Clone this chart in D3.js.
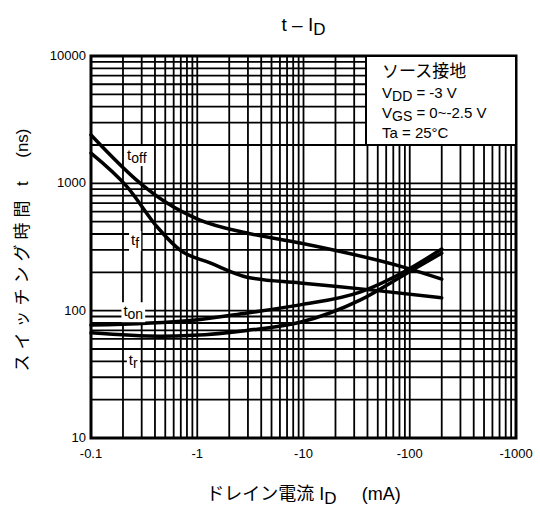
<!DOCTYPE html>
<html>
<head>
<meta charset="utf-8">
<script src="https://cdn.jsdelivr.net/npm/d3@7"></script>
<style>
  body { margin: 0; background: #fff; }
  text { font-family: "Liberation Sans", Arial, "Noto Sans CJK JP", sans-serif; fill: #000; }
  .jp { font-family: "Liberation Sans", "Noto Sans CJK JP", sans-serif; }
</style>
</head>
<body>
<div id="chart"></div>
<script>
const WIDTH = 540;
const HEIGHT = 510;
const MARGINS = {left: 91, right: 24, top: 56, bottom: 72};

// drain current |ID| (mA) and switching time (ns)
const toffI = [0.1, 0.29, 0.52, 1.06, 2.94, 9.3, 94, 200];
const toffT = [2400, 1005, 700, 515, 407, 340, 216, 177];
const tfI = [0.1, 0.22, 0.42, 0.69, 1.32, 2.94, 9.3, 45, 200];
const tfT = [1730, 935, 454, 299, 237, 183, 165, 145, 126];
const tonI = [0.1, 0.91, 2.94, 9.3, 34, 94, 200];
const tonT = [77, 84, 96, 111, 140, 208, 305];
const trI = [0.1, 0.45, 0.91, 2.94, 9.3, 34, 94, 200];
const trT = [67, 63, 64, 70, 81, 121, 197, 283];

const curveNames = ["toff", "tf", "ton", "tr"];
const labelX = [0.27, 0.26, 0.25, 0.25];
const labelY = [1667, 359, 99, 41];
const labelSub = ["off", "f", "on", "r"];

const xTicks = [0.1, 1, 10, 100, 1000];
const xTickLabels = ["-0.1", "-1", "-10", "-100", "-1000"];
const yTicks = [10, 100, 1000, 10000];
const yTickLabels = ["10", "100", "1000", "10000"];

const svg = d3.select("#chart")
  .append("svg")
    .attr("width", WIDTH)
    .attr("height", HEIGHT);

const x = d3.scaleLog().domain([0.1, 1000]).range([MARGINS.left, WIDTH - MARGINS.right]);
const y = d3.scaleLog().domain([10, 10000]).range([HEIGHT - MARGINS.bottom, MARGINS.top]);

// grid lines: every 1..9 of each decade
const xGrid = [];
for (let d = 0.1; d < 1000; d *= 10) for (let k = 1; k < 10; k++) xGrid.push(d * k);
const yGrid = [];
for (let d = 10; d < 10000; d *= 10) for (let k = 1; k < 10; k++) yGrid.push(d * k);

svg.append("g").selectAll("line")
  .data(xGrid)
  .enter()
  .append("line")
    .attr("x1", d => x(d)).attr("x2", d => x(d))
    .attr("y1", y(10)).attr("y2", y(10000))
    .attr("stroke", "#000").attr("stroke-width", 1.8);

svg.append("g").selectAll("line")
  .data(yGrid)
  .enter()
  .append("line")
    .attr("x1", x(0.1)).attr("x2", x(1000))
    .attr("y1", d => y(d)).attr("y2", d => y(d))
    .attr("stroke", "#000").attr("stroke-width", 1.8);

// frame
svg.append("rect")
  .attr("x", x(0.1)).attr("y", y(10000))
  .attr("width", x(1000) - x(0.1)).attr("height", y(10) - y(10000))
  .attr("fill", "none").attr("stroke", "#000").attr("stroke-width", 3);

// curves
const line = d3.line()
  .x(d => x(d[0]))
  .y(d => y(d[1]))
  .curve(d3.curveMonotoneX);

const series = [[toffI, toffT], [tfI, tfT], [tonI, tonT], [trI, trT]];
svg.append("g").selectAll("path")
  .data(series)
  .enter()
  .append("path")
    .attr("d", s => line(s[0].map((v, i) => [v, s[1][i]])))
    .attr("fill", "none")
    .attr("stroke", "#000")
    .attr("stroke-width", 3.5)
    .attr("stroke-linecap", "round");

// curve labels with white backing
curveNames.forEach((name, i) => {
  const g = svg.append("g");
  const t = g.append("text")
    .attr("x", x(labelX[i]))
    .attr("y", y(labelY[i]) + 5)
    .attr("text-anchor", "middle")
    .attr("font-size", 15);
  t.append("tspan").text("t");
  t.append("tspan").attr("font-size", 14).attr("dy", 3).text(labelSub[i]);
  const b = t.node().getBBox();
  g.insert("rect", "text")
    .attr("x", b.x - 2).attr("y", b.y)
    .attr("width", b.width + 4).attr("height", b.height)
    .attr("fill", "#fff");
});

// legend box
const box = svg.append("g");
box.append("rect")
  .attr("x", 366).attr("y", y(10000))
  .attr("width", x(1000) - 366).attr("height", 89)
  .attr("fill", "#fff").attr("stroke", "#000").attr("stroke-width", 2);
box.append("text").attr("class", "jp").attr("x", 382).attr("y", 77).attr("font-size", 17).text("ソース接地");
const l2 = box.append("text").attr("x", 382).attr("y", 98).attr("font-size", 15);
l2.append("tspan").text("V");
l2.append("tspan").attr("dy", 3).attr("font-size", 14).text("DD");
l2.append("tspan").attr("dy", -3).text(" = -3 V");
const l3 = box.append("text").attr("x", 382).attr("y", 118).attr("font-size", 15);
l3.append("tspan").text("V");
l3.append("tspan").attr("dy", 3).attr("font-size", 14).text("GS");
l3.append("tspan").attr("dy", -3).text(" = 0~-2.5 V");
box.append("text").attr("x", 382).attr("y", 138).attr("font-size", 15).text("Ta = 25°C");

// tick labels
svg.append("g").selectAll("text")
  .data(xTicks)
  .enter()
  .append("text")
    .attr("x", d => x(d))
    .attr("y", y(10) + 20)
    .attr("text-anchor", "middle")
    .attr("font-size", 13)
    .text((d, i) => xTickLabels[i]);

svg.append("g").selectAll("text")
  .data(yTicks)
  .enter()
  .append("text")
    .attr("x", x(0.1) - 5)
    .attr("y", d => y(d) + 4)
    .attr("text-anchor", "end")
    .attr("font-size", 13)
    .text((d, i) => yTickLabels[i]);

// title
const title = svg.append("text")
  .attr("x", (x(0.1) + x(1000)) / 2)
  .attr("y", 31)
  .attr("text-anchor", "middle")
  .attr("font-size", 19);
title.append("tspan").text("t – I");
title.append("tspan").attr("dy", 4).attr("font-size", 17).text("D");

// x axis title
const xt = svg.append("text")
  .attr("class", "jp")
  .attr("x", (x(0.1) + x(1000)) / 2)
  .attr("y", 500)
  .attr("text-anchor", "middle")
  .attr("font-size", 18);
xt.append("tspan").text("ドレイン電流 I");
xt.append("tspan").attr("dy", 4).attr("font-size", 17).text("D");
xt.append("tspan").attr("dy", -4).text("\u00a0\u00a0\u00a0\u00a0\u00a0(mA)");

// y axis title
const yt = svg.append("text")
  .attr("class", "jp")
  .attr("transform", "translate(28," + 250 + ") rotate(-90)")
  .attr("text-anchor", "middle")
  .attr("font-size", 17);
yt.append("tspan").attr("letter-spacing", 5).text("スイッチング時間");
yt.append("tspan").text("\u00a0\u00a0t\u00a0\u00a0\u00a0\u00a0\u00a0(ns)");
</script>
</body>
</html>
